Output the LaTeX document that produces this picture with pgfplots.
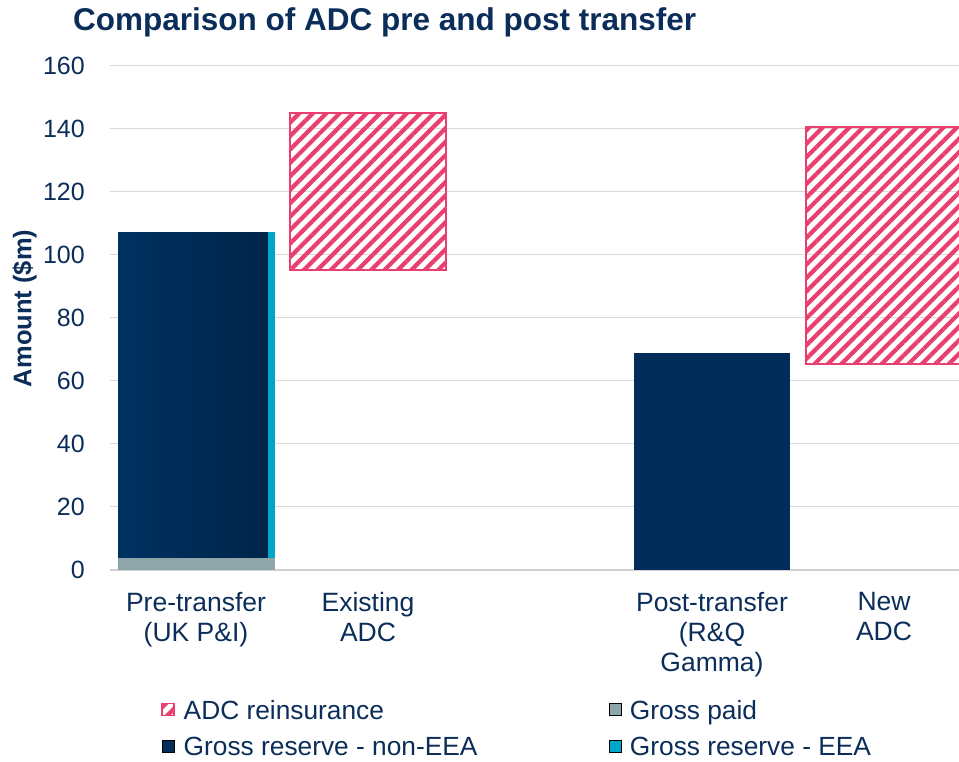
\documentclass[border=0pt]{standalone}
\usepackage{pgfplots}
\pgfplotsset{compat=1.18}
\usetikzlibrary{patterns.meta}
\usepackage{fontspec}
\setmainfont{Liberation Sans}
\definecolor{txtnavy}{HTML}{0B2D59}
\definecolor{barnavy}{HTML}{002D5A}
\definecolor{barnavyL}{HTML}{003161}
\definecolor{barnavyR}{HTML}{00254A}
\definecolor{paidgray}{HTML}{8EA5A9}
\definecolor{eeacyan}{HTML}{00A5CC}
\definecolor{adcpink}{HTML}{E83F6F}
\definecolor{gridgray}{HTML}{D9D9D9}
\definecolor{axisgray}{HTML}{D0D0D0}
\tikzset{adcstyle/.style={pattern={Lines[angle=45,distance=9.5pt,line width=4.2pt]},pattern color=adcpink,draw=adcpink,line width=1.5pt}}
\begin{document}
\begin{tikzpicture}
\useasboundingbox (-110pt,-192pt) rectangle (849pt,570pt);
\begin{axis}[
  at={(0pt,0pt)}, anchor=south west,
  scale only axis, width=849pt, height=504pt,
  xmin=-0.5, xmax=4.436, ymin=0, ymax=160,
  ytick={0,20,...,160},
  xtick={0,1,3,4},
  xticklabels={{Pre-transfer\\(UK P\&I)},{Existing\\ADC},{Post-transfer\\(R\&Q\\Gamma)},{New\\ADC}},
  ymajorgrids, grid style={draw=gridgray, line width=1pt},
  axis lines*=left,
  x axis line style={draw=axisgray, line width=2pt, -},
  y axis line style={draw=none},
  major tick length=0pt,
  /pgf/number format/assume math mode=true,
  yticklabel style={font=\fontsize{25}{29}\selectfont, text=txtnavy, inner sep=0pt, xshift=-25pt},
  xticklabel style={font=\fontsize{26.5}{30}\selectfont, text=txtnavy, align=center, inner sep=0pt, yshift=-22pt},
  title={Comparison of ADC pre and post transfer},
  title style={font=\bfseries\fontsize{31.5}{36}\selectfont, text=txtnavy, anchor=base west, inner sep=0pt, at={(-0.0436,1.0595)}},
  ylabel={Amount (\$m)},
  ylabel style={font=\bfseries\fontsize{25.5}{30}\selectfont, text=txtnavy, at={(-0.0925,0.519)}, anchor=base, inner sep=0pt},
  legend image code/.code={\draw[#1] (0pt,-6pt) rectangle (12pt,6pt);},
  legend columns=2,
  legend cell align=left,
  legend style={draw=none, fill=none, inner xsep=0pt, inner ysep=0pt,
    at={(0.0601,-0.2579)}, anchor=north west,
    font=\fontsize{26.3}{30}\selectfont, text=txtnavy,
    nodes={inner sep=0pt, text height=18.9pt, text depth=0pt},
    row sep=18pt,
    /tikz/every odd column/.append style={column sep=9pt},
    /tikz/every even column/.append style={column sep=131pt}},
]
\addlegendimage{adcstyle}
\addlegendentry{ADC reinsurance}
\addlegendimage{fill=paidgray, draw=none}
\addlegendentry{Gross paid}
\addlegendimage{fill=barnavy, draw=none}
\addlegendentry{Gross reserve - non-EEA}
\addlegendimage{fill=eeacyan, draw=none}
\addlegendentry{Gross reserve - EEA}
% Pre-transfer: non-EEA reserve
\addplot[ybar, forget plot, bar width=0.872, bar shift=-0.017, draw=none, left color=barnavyL, right color=barnavyR] coordinates {(0,107.3)};
% Pre-transfer: EEA reserve
\addplot[ybar, forget plot, bar width=0.041, bar shift=0.439, draw=none, fill=eeacyan] coordinates {(0,107.3)};
% Pre-transfer: gross paid
\addplot[ybar, forget plot, bar width=0.912, bar shift=0.003, draw=none, fill=paidgray] coordinates {(0,3.8)};
% Post-transfer: reserve
\addplot[ybar, forget plot, bar width=0.912, bar shift=0, draw=none, fill=barnavy] coordinates {(3,68.9)};
\end{axis}
\begin{axis}[
  at={(0pt,0pt)}, anchor=south west,
  scale only axis, width=849pt, height=504pt,
  xmin=-0.5, xmax=4.436, ymin=0, ymax=160,
  hide axis,
  ybar stacked, bar width=0.907,
]
\addplot[draw=none, fill=none] coordinates {(1,95.2) (4,65.4)};
\addplot[adcstyle] coordinates {(1,49.9) (4,75.2)};
\end{axis}
\end{tikzpicture}
\end{document}
